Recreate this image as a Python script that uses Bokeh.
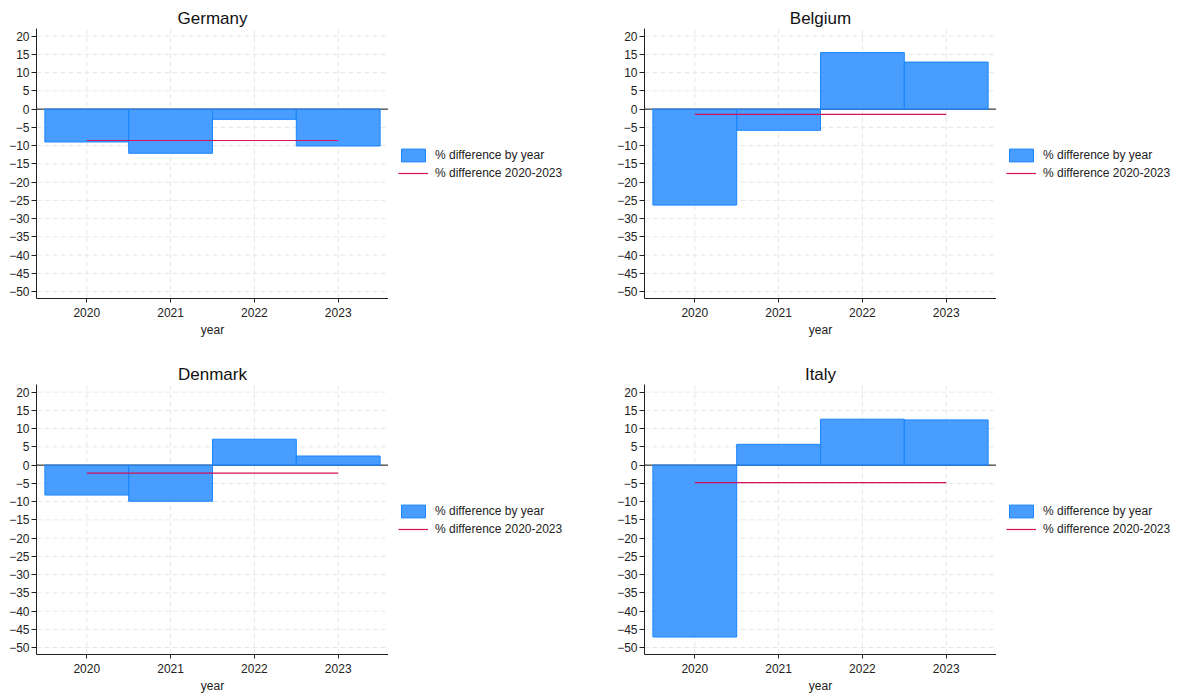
from bokeh.plotting import figure
from bokeh.models import (Range1d, FixedTicker, Legend, LegendItem, Label)
from bokeh.layouts import column, row
from bokeh.embed import file_html
from bokeh.resources import INLINE

# ---- data ----
years = [2020, 2021, 2022, 2023]
countries = ["Germany", "Belgium", "Denmark", "Italy"]
germany = [-9.0, -12.1, -2.8, -10.1]
belgium = [-26.3, -5.8, 15.5, 12.9]
denmark = [-8.2, -9.9, 7.1, 2.5]
italy = [-47.1, 5.7, 12.6, 12.4]
total_2020_2023 = [-8.6, -1.45, -2.2, -4.8]
y_ticks = [-50, -45, -40, -35, -30, -25, -20, -15, -10, -5, 0, 5, 10, 15, 20]
bar_label = "% difference by year"
line_label = "% difference 2020-2023"

series = [germany, belgium, denmark, italy]

FONT = "Liberation Sans"
BLUE = "#1a85ff"
RED = "#d41159"
GRID = "#e6e6e6"
INK = "#222222"

# axis extents of the data region
XMIN, XMAX = 2019.4, 2023.6
YMIN, YMAX = -51.9, 22.1
DW, DH = 352, 270           # data-region size in px
PX = DW / (XMAX - XMIN)
PY = DH / (YMAX - YMIN)
TITLE_ROOM = 28
LEFT = 36


def bar_style():
    return dict(fill_color=BLUE, fill_alpha=0.8, line_color=BLUE, line_width=1)


def line_style():
    return dict(line_color=RED, line_width=1.2)


def make_panel(name, vals, total, border_bottom):
    frame_h = DH + TITLE_ROOM
    y_end = YMAX + TITLE_ROOM / PY
    p = figure(width=LEFT + DW, height=frame_h + border_bottom,
               frame_width=DW, frame_height=frame_h,
               output_backend="svg", toolbar_location=None,
               x_range=Range1d(XMIN, XMAX), y_range=Range1d(YMIN, y_end),
               min_border_left=LEFT, min_border_right=0,
               min_border_top=0, min_border_bottom=border_bottom,
               background_fill_color="white", border_fill_color="white")
    p.outline_line_color = None
    p.xgrid.visible = False
    p.ygrid.visible = False

    for ax in (p.xaxis[0], p.yaxis[0]):
        ax.axis_line_color = INK
        ax.major_tick_line_color = INK
        ax.minor_tick_line_color = None
        ax.major_tick_in = 0
        ax.major_label_text_font = FONT
        ax.major_label_text_font_size = "12px"
        ax.major_label_text_color = INK
    p.xaxis.ticker = FixedTicker(ticks=years)
    p.yaxis.ticker = FixedTicker(ticks=y_ticks)
    p.yaxis.bounds = (YMIN, YMAX)
    p.xaxis.major_tick_out = 4
    p.xaxis.major_label_standoff = 5
    p.yaxis.major_tick_out = 5
    p.yaxis.major_label_standoff = 2
    p.xaxis.axis_label = "year"
    p.xaxis.axis_label_text_font = FONT
    p.xaxis.axis_label_text_font_size = "12px"
    p.xaxis.axis_label_text_font_style = "normal"
    p.xaxis.axis_label_text_color = INK
    p.xaxis.axis_label_standoff = 3

    # grid lines, limited to the data region
    p.segment(x0=XMIN, x1=XMAX, y0=y_ticks, y1=y_ticks,
              line_color=GRID, line_dash="5 3", line_width=1)
    p.segment(x0=years, x1=years, y0=YMIN, y1=YMAX,
              line_color=GRID, line_dash="5 3", line_width=1)
    # zero line
    p.segment(x0=[XMIN], x1=[XMAX], y0=[0], y1=[0],
              line_color="#111111", line_width=1)

    p.vbar(x=years, top=vals, bottom=0, width=1.0, **bar_style())
    p.line(x=[years[0], years[-1]], y=[total, total], **line_style())

    title = Label(x=(XMIN + XMAX) / 2, y=YMAX + 10 / PY, text=name,
                  text_align="center", text_baseline="middle",
                  text_font=FONT, text_font_size="17px", text_color="#111111")
    p.add_layout(title)
    return p


def make_legend(vals, total, width, height):
    # a figure holding only the legend; its glyphs lie outside its ranges
    lf = figure(width=width, height=height, frame_width=width, frame_height=height,
                output_backend="svg", toolbar_location=None,
                x_axis_location=None, y_axis_location=None,
                x_range=Range1d(0, 1), y_range=Range1d(0, 1),
                min_border=0, background_fill_color="white",
                border_fill_color="white")
    lf.outline_line_color = None
    lf.xgrid.visible = False
    lf.ygrid.visible = False
    bars = lf.vbar(x=years, top=vals, bottom=0, width=1.0, **bar_style())
    ln = lf.line(x=[years[0], years[-1]], y=[total, total], **line_style())
    legend = Legend(items=[LegendItem(label=bar_label, renderers=[bars]),
                           LegendItem(label=line_label, renderers=[ln])],
                    location=(10, height - (TITLE_ROOM + DH) + 117))
    legend.margin = 0
    legend.padding = 0
    legend.spacing = 2
    legend.glyph_width = 30
    legend.glyph_height = 16
    legend.label_height = 16
    legend.label_standoff = 7
    legend.label_text_font = FONT
    legend.label_text_font_size = "12px"
    legend.label_text_color = INK
    legend.background_fill_alpha = 0
    legend.border_line_alpha = 0
    lf.add_layout(legend)
    return lf


B_TOP, B_BOT = 58, 41
H_TOP = TITLE_ROOM + DH + B_TOP
H_BOT = TITLE_ROOM + DH + B_BOT

p1 = make_panel(countries[0], series[0], total_2020_2023[0], B_TOP)
l1 = make_legend(series[0], total_2020_2023[0], 220, H_TOP)
p2 = make_panel(countries[1], series[1], total_2020_2023[1], B_TOP)
l2 = make_legend(series[1], total_2020_2023[1], 182, H_TOP)
p3 = make_panel(countries[2], series[2], total_2020_2023[2], B_BOT)
l3 = make_legend(series[2], total_2020_2023[2], 220, H_BOT)
p4 = make_panel(countries[3], series[3], total_2020_2023[3], B_BOT)
l4 = make_legend(series[3], total_2020_2023[3], 182, H_BOT)

layout = column(row(p1, l1, p2, l2), row(p3, l3, p4, l4))
open("out.html", "w").write(file_html(layout, INLINE))
